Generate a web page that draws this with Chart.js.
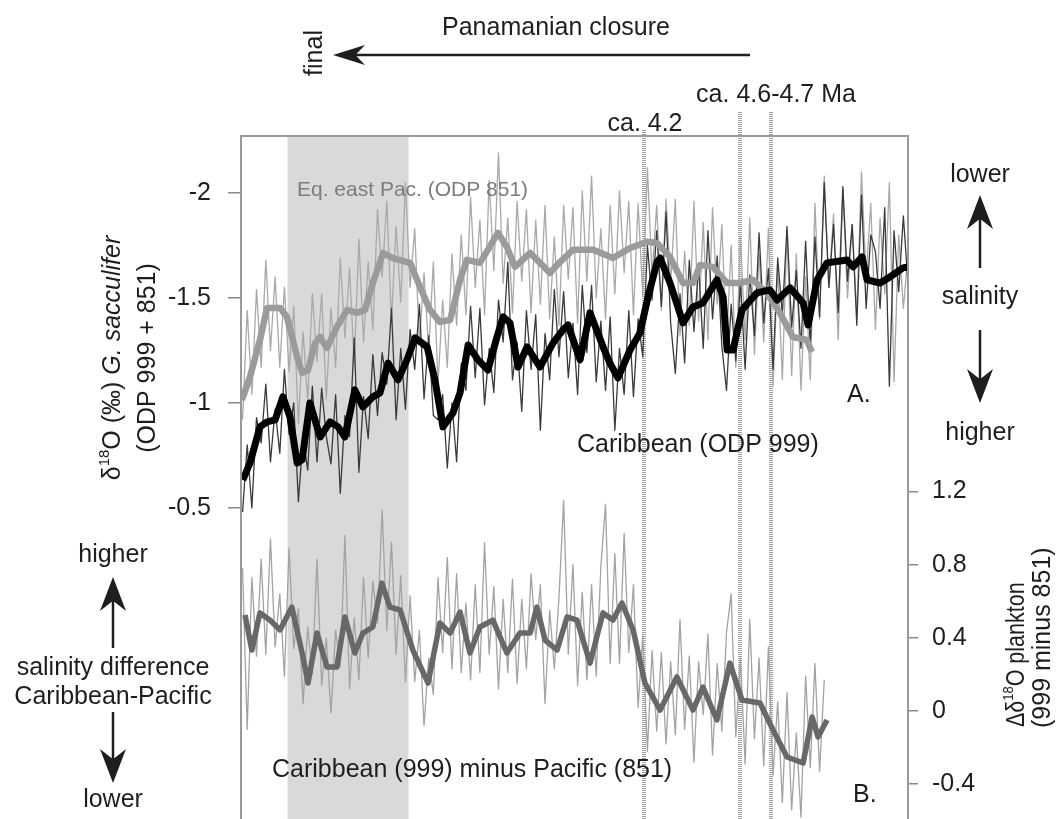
<!DOCTYPE html>
<html>
<head>
<meta charset="utf-8">
<script src="https://cdn.jsdelivr.net/npm/chart.js@4.4.1/dist/chart.umd.min.js"></script>
<style>
  html, body { margin: 0; padding: 0; background: #fff; }
  #wrap { width: 1056px; height: 819px; position: relative; }
</style>
</head>
<body>
<div id="wrap"><canvas id="c" width="1056" height="819"></canvas></div>
<script>
// ---- Smoothed records (age in Ma, δ18O in ‰) ----
const carSmoothAge = [2.996,3.019,3.051,3.074,3.100,3.125,3.148,3.171,3.187,3.212,
  3.245,3.277,3.303,3.325,3.357,3.383,3.415,3.438,3.464,3.496,
  3.525,3.551,3.590,3.615,3.641,3.673,3.696,3.722,3.754,3.786,
  3.815,3.835,3.857,3.883,3.912,3.954,3.996,4.028,4.044,4.083,
  4.115,4.157,4.179,4.205,4.244,4.276,4.302,4.331,4.341,4.373,
  4.415,4.447,4.479,4.524,4.544,4.557,4.576,4.605,4.653,4.695,
  4.718,4.760,4.802,4.818,4.847,4.879,4.943,4.963,4.992,5.008,
  5.050,5.082,5.124,5.140];
const carSmooth = [-0.633,-0.714,-0.886,-0.910,-0.919,-1.029,-0.933,-0.714,-0.729,-1.000,
  -0.838,-0.910,-0.886,-0.838,-1.062,-0.981,-1.029,-1.048,-1.190,-1.110,
  -1.205,-1.310,-1.267,-1.110,-0.886,-0.952,-1.048,-1.276,-1.205,-1.157,
  -1.314,-1.410,-1.381,-1.171,-1.267,-1.171,-1.286,-1.348,-1.371,-1.205,
  -1.429,-1.267,-1.190,-1.119,-1.252,-1.333,-1.505,-1.671,-1.690,-1.571,
  -1.381,-1.457,-1.476,-1.586,-1.505,-1.252,-1.252,-1.443,-1.524,-1.538,
  -1.490,-1.548,-1.476,-1.371,-1.586,-1.667,-1.681,-1.648,-1.695,-1.586,
  -1.571,-1.600,-1.643,-1.648];

const pacSmoothAge = [2.993,3.019,3.051,3.074,3.116,3.138,3.171,3.187,3.206,3.229,
  3.245,3.267,3.299,3.332,3.364,3.390,3.415,3.448,3.480,3.535,
  3.567,3.599,3.631,3.664,3.696,3.718,3.760,3.786,3.818,3.847,
  3.873,3.922,3.954,3.986,4.018,4.060,4.125,4.189,4.244,4.299,
  4.331,4.373,4.415,4.447,4.470,4.511,4.557,4.598,4.640,4.685,
  4.727,4.769,4.814,4.830];
const pacSmooth = [-1.014,-1.124,-1.300,-1.452,-1.452,-1.410,-1.219,-1.143,-1.157,-1.286,
  -1.314,-1.262,-1.362,-1.443,-1.429,-1.443,-1.571,-1.714,-1.690,-1.667,
  -1.552,-1.443,-1.386,-1.395,-1.586,-1.681,-1.667,-1.729,-1.810,-1.743,
  -1.648,-1.714,-1.667,-1.619,-1.671,-1.729,-1.729,-1.690,-1.738,-1.767,
  -1.762,-1.695,-1.571,-1.571,-1.657,-1.648,-1.571,-1.571,-1.586,-1.524,
  -1.429,-1.314,-1.300,-1.243];

const diffSmoothAge = [3.003,3.025,3.051,3.083,3.116,3.154,3.187,3.206,3.235,3.267,
  3.299,3.325,3.357,3.383,3.415,3.444,3.470,3.503,3.544,3.593,
  3.631,3.664,3.696,3.728,3.760,3.802,3.847,3.889,3.922,3.944,
  3.970,4.009,4.041,4.073,4.115,4.157,4.189,4.218,4.254,4.292,
  4.341,4.395,4.447,4.479,4.524,4.566,4.605,4.663,4.705,4.750,
  4.802,4.831,4.850,4.879];
const diffSmooth = [0.525,0.333,0.536,0.497,0.443,0.568,0.317,0.153,0.426,0.240,
  0.240,0.514,0.317,0.426,0.459,0.699,0.568,0.552,0.333,0.153,
  0.481,0.426,0.541,0.317,0.459,0.497,0.317,0.426,0.426,0.568,
  0.388,0.333,0.514,0.497,0.262,0.536,0.497,0.590,0.443,0.153,
  0.005,0.186,0.005,0.131,-0.049,0.262,0.060,0.044,-0.104,-0.251,
  -0.284,-0.033,-0.142,-0.049];

// ---- Raw sample series, evenly sampled from rawStart every rawStep Ma ----
const rawStart = 2.995;
const rawStep = 0.015;
const carRaw = [-0.48,-0.80,-0.50,-0.93,-0.81,-1.09,-0.72,-0.97,-0.76,-1.16,
  -0.85,-1.00,-0.53,-0.84,-0.68,-1.08,-0.72,-1.07,-0.84,-0.71,
  -1.04,-0.57,-0.94,-0.84,-1.31,-0.67,-1.03,-0.83,-1.23,-0.94,
  -1.24,-1.09,-1.45,-0.92,-1.26,-0.97,-1.35,-1.16,-1.47,-1.02,
  -1.32,-0.94,-0.92,-1.04,-0.69,-1.00,-0.72,-1.19,-1.06,-1.46,
  -1.12,-1.45,-0.99,-1.26,-1.05,-1.49,-1.29,-1.67,-1.11,-1.29,
  -0.96,-1.44,-1.16,-1.42,-0.87,-1.33,-1.11,-1.54,-1.22,-1.53,
  -1.12,-1.38,-1.04,-1.56,-1.24,-1.56,-1.10,-1.39,-1.06,-1.41,
  -0.87,-1.26,-1.04,-1.44,-1.03,-1.40,-1.22,-1.75,-1.49,-1.82,
  -1.46,-1.91,-1.38,-1.14,-1.52,-1.19,-1.68,-1.34,-1.65,-1.26,
  -1.82,-1.40,-1.70,-1.27,-1.06,-1.47,-1.20,-1.58,-1.16,-1.61,
  -1.32,-1.81,-1.38,-1.64,-1.16,-1.69,-1.42,-1.84,-1.36,-1.63,
  -1.26,-1.77,-1.27,-1.79,-1.41,-2.05,-1.55,-1.85,-1.43,-2.03,
  -1.58,-1.85,-1.37,-1.99,-1.45,-1.80,-1.72,-1.45,-1.93,-1.08,
  -1.82,-1.53,-1.89,-1.57];
const pacRaw = [-0.92,-1.44,-1.04,-1.54,-1.17,-1.68,-1.25,-1.60,-1.17,-1.55,
  -1.15,-1.46,-0.90,-1.34,-1.01,-1.52,-1.20,-1.52,-1.02,-1.45,
  -1.17,-1.69,-1.31,-1.64,-1.18,-1.78,-1.29,-1.67,-1.35,-1.92,
  -1.60,-1.96,-1.39,-1.84,-1.48,-2.05,-1.55,-1.83,-1.28,-1.62,
  -1.25,-1.67,-1.09,-1.49,-1.17,-1.71,-1.37,-1.80,-1.42,-1.98,
  -1.55,-1.87,-1.42,-2.06,-1.63,-2.19,-1.57,-1.88,-1.43,-1.96,
  -1.58,-1.92,-1.43,-1.87,-1.47,-1.94,-1.40,-1.79,-1.37,-1.94,
  -1.59,-1.93,-1.38,-2.01,-1.58,-2.08,-1.50,-1.83,-1.40,-1.94,
  -1.52,-2.01,-1.62,-1.96,-1.42,-1.95,-1.51,-2.12,-1.61,-1.94,
  -1.44,-1.97,-1.57,-1.97,-1.32,-1.72,-1.37,-1.96,-1.39,-1.86,
  -1.30,-1.93,-1.47,-1.85,-1.27,-1.75,-1.17,-1.79,-1.30,-1.88,
  -1.23,-1.71,-1.29,-1.83,-1.08,-1.65,-1.11,-1.82,-1.13,-1.71,
  -1.06,-1.60,-1.11,-1.95,-1.40,-2.08,-1.55,-1.90,-1.30,-2.02,
  -1.50,-1.85,-1.42,-2.10,-1.60,-1.95,-1.35,-1.88,-1.52,-2.05,
  -1.10,-1.80,-1.45,-1.70];
const diffRaw = [0.78,-0.10,0.73,0.30,0.83,0.31,0.94,0.35,0.64,0.19,
  0.89,0.34,0.56,0.04,0.46,0.20,0.83,0.14,0.40,-0.01,
  0.44,0.24,0.96,0.12,0.51,0.17,0.73,0.29,0.71,0.48,
  1.10,0.44,0.92,0.31,0.74,0.16,0.63,0.16,0.44,-0.08,
  0.29,0.09,0.73,0.32,0.84,0.23,0.75,0.21,0.59,0.17,
  0.69,0.21,0.92,0.31,0.68,0.12,0.61,0.21,0.72,0.15,
  0.61,0.23,0.75,0.39,0.69,0.04,0.55,0.23,0.62,1.15,
  0.31,0.80,0.14,0.65,0.17,0.69,0.19,0.79,1.13,0.26,
  0.86,0.26,0.97,0.32,0.69,0.02,0.41,-0.22,0.33,-0.11,
  0.32,-0.18,0.27,-0.13,0.50,-0.10,0.30,-0.28,0.27,-0.02,
  0.42,-0.24,0.26,-0.11,0.43,0.64,-0.14,0.29,-0.29,0.50,
  -0.15,0.29,-0.30,0.35,-0.35,0.05,-0.50,0.10,-0.54,-0.12,
  -0.58,0.19,-0.31,0.26,-0.33,0.17];

// ---- Axis ticks and event markers ----
const leftTicks = [-2, -1.5, -1, -0.5];
const rightTicks = [1.2, 0.8, 0.4, 0, -0.4];
const closureMarks = [4.29, 4.60, 4.70];       // ca. 4.2 and ca. 4.6-4.7 Ma
const shadedInterval = [3.14, 3.53];

const FONT = '"Liberation Sans", Arial, Helvetica, sans-serif';
const INK = '#1e1e1e';

const pairs = (ages, vals) => vals.map((v, i) => ({ x: ages[i], y: v }));
const rawPairs = vals => vals.map((v, i) => ({ x: +(rawStart + i * rawStep).toFixed(3), y: v }));

function line(data, axis, color, width) {
  return { data, yAxisID: axis, borderColor: color, borderWidth: width,
           pointRadius: 0, fill: false, tension: 0, borderJoinStyle: 'round' };
}

function txt(ctx, s, x, y, o = {}) {
  ctx.save();
  ctx.font = `${o.italic ? 'italic ' : ''}${o.size || 25}px ${FONT}`;
  ctx.fillStyle = o.color || INK;
  ctx.textAlign = o.align || 'center';
  ctx.textBaseline = 'middle';
  ctx.translate(x, y);
  if (o.rot) ctx.rotate(o.rot);
  ctx.fillText(s, 0, 0);
  ctx.restore();
}

function rich(ctx, parts, x, y, rot, align, squeeze = 1) {
  ctx.save();
  ctx.translate(x, y);
  ctx.rotate(rot);
  ctx.scale(squeeze, 1);
  ctx.textBaseline = 'middle';
  ctx.textAlign = 'left';
  ctx.fillStyle = INK;
  const fontOf = p => `${p.italic ? 'italic ' : ''}${p.sup ? 15 : 25}px ${FONT}`;
  let total = 0;
  const widths = parts.map(p => { ctx.font = fontOf(p); const w = ctx.measureText(p.t).width; total += w; return w; });
  let cx = align === 'start' ? 0 : -total / 2;
  parts.forEach((p, i) => { ctx.font = fontOf(p); ctx.fillText(p.t, cx, p.sup ? -8 : 0); cx += widths[i]; });
  ctx.restore();
}

function arrow(ctx, x1, y1, x2, y2, len, half) {
  const ang = Math.atan2(y2 - y1, x2 - x1);
  ctx.save();
  ctx.strokeStyle = INK;
  ctx.fillStyle = INK;
  ctx.lineWidth = 2.5;
  ctx.beginPath();
  ctx.moveTo(x1, y1);
  ctx.lineTo(x2 - Math.cos(ang) * len * 0.6, y2 - Math.sin(ang) * len * 0.6);
  ctx.stroke();
  ctx.translate(x2, y2);
  ctx.rotate(ang);
  ctx.beginPath();
  ctx.moveTo(0, 0);
  ctx.lineTo(-len, -half);
  ctx.lineTo(-len * 0.7, 0);
  ctx.lineTo(-len, half);
  ctx.closePath();
  ctx.fill();
  ctx.restore();
}

const decorations = {
  id: 'decorations',
  beforeDatasetsDraw(chart) {
    const { ctx, chartArea: a, scales: { x } } = chart;
    ctx.save();
    // shaded interval
    const s0 = x.getPixelForValue(shadedInterval[0]);
    const s1 = x.getPixelForValue(shadedInterval[1]);
    ctx.fillStyle = '#d9d9d9';
    ctx.fillRect(s0, a.top, s1 - s0, chart.height - a.top);
    // closure marker lines (hatched)
    ctx.strokeStyle = '#a0a0a0';
    ctx.lineWidth = 4;
    ctx.setLineDash([1, 1]);
    closureMarks.forEach((m, i) => {
      const px = Math.round(x.getPixelForValue(m));
      const top = i === 0 ? 130 : 112;
      ctx.beginPath();
      ctx.moveTo(px, top);
      ctx.lineTo(px, chart.height);
      ctx.stroke();
    });
    ctx.restore();
  },
  afterDatasetsDraw(chart) {
    const { ctx, chartArea: a } = chart;
    ctx.save();
    ctx.strokeStyle = '#9a9a9a';
    ctx.lineWidth = 2;
    ctx.beginPath();
    ctx.moveTo(a.left, chart.height);
    ctx.lineTo(a.left, a.top);
    ctx.lineTo(a.right, a.top);
    ctx.lineTo(a.right, chart.height);
    ctx.stroke();
    ctx.restore();
  },
  afterDraw(chart) {
    const ctx = chart.ctx;
    // heading with arrow
    txt(ctx, 'Panamanian closure', 556, 28);
    arrow(ctx, 750, 55, 333, 55, 32, 10);
    txt(ctx, 'final', 315, 53, { rot: -Math.PI / 2 });
    txt(ctx, 'ca. 4.6-4.7 Ma', 776, 95);
    txt(ctx, 'ca. 4.2', 645, 124);

    // left axis title
    rich(ctx, [{ t: 'δ' }, { t: '18', sup: true }, { t: 'O (‰) ' }, { t: 'G. sacculifer', italic: true }],
         113, 358, -Math.PI / 2, 'center');
    txt(ctx, '(ODP 999 + 851)', 148, 358, { rot: -Math.PI / 2 });

    // right axis title
    rich(ctx, [{ t: 'Δδ' }, { t: '18', sup: true }, { t: 'O plankton' }], 1017, 727, -Math.PI / 2, 'start', 0.86);
    txt(ctx, '(999 minus 851)', 1043, 728, { rot: -Math.PI / 2, align: 'left' });

    // salinity guide (upper panel)
    txt(ctx, 'lower', 980, 175);
    arrow(ctx, 980, 268, 980, 195, 34, 13);
    txt(ctx, 'salinity', 980, 297);
    arrow(ctx, 980, 330, 980, 403, 34, 13);
    txt(ctx, 'higher', 980, 433);

    // salinity difference guide (lower panel)
    txt(ctx, 'higher', 113, 555);
    arrow(ctx, 113, 648, 113, 577, 34, 13);
    txt(ctx, 'salinity difference', 113, 668);
    txt(ctx, 'Caribbean-Pacific', 113, 697);
    arrow(ctx, 113, 712, 113, 783, 34, 13);
    txt(ctx, 'lower', 113, 800);

    // in-panel labels
    txt(ctx, 'Eq. east Pac. (ODP 851)', 297, 190, { align: 'left', size: 21, color: '#7c7c7c' });
    txt(ctx, 'Caribbean (ODP 999)', 577, 445, { align: 'left' });
    txt(ctx, 'A.', 847, 395, { align: 'left' });
    txt(ctx, 'Caribbean (999) minus Pacific (851)', 272, 770, { align: 'left' });
    txt(ctx, 'B.', 853, 795, { align: 'left' });
  }
};

new Chart(document.getElementById('c'), {
  type: 'line',
  data: {
    datasets: [
      line(pairs(carSmoothAge, carSmooth), 'yA', '#000000', 7),
      line(pairs(pacSmoothAge, pacSmooth), 'yA', '#9b9b9b', 6.5),
      line(pairs(diffSmoothAge, diffSmooth), 'yB', '#686868', 5.5),
      line(rawPairs(carRaw), 'yA', '#3a3a3a', 1.3),
      line(rawPairs(pacRaw), 'yA', '#a9a9a9', 1.3),
      line(rawPairs(diffRaw), 'yB', '#a3a3a3', 1.3)
    ]
  },
  options: {
    responsive: false,
    animation: false,
    events: [],
    layout: { padding: { top: 136, left: 0, right: 0, bottom: 0 } },
    plugins: { legend: { display: false }, tooltip: { enabled: false } },
    scales: {
      x: { type: 'linear', min: 2.99, max: 5.14, display: false },
      yA: {
        type: 'linear', position: 'left', reverse: true, min: -2.271, max: 0.981,
        afterBuildTicks: s => { s.ticks = leftTicks.map(v => ({ value: v })); },
        afterFit: s => { s.width = 241; s.paddingTop = 0; s.paddingBottom = 0; },
        ticks: { callback: v => String(v), font: { family: FONT, size: 25 }, color: INK, padding: 17 },
        grid: { drawOnChartArea: false, tickLength: 13, color: '#8a8a8a', lineWidth: 1.5 },
        border: { display: false }
      },
      yB: {
        type: 'linear', position: 'right', min: -0.59, max: 3.142,
        afterBuildTicks: s => { s.ticks = rightTicks.map(v => ({ value: v })); },
        afterFit: s => { s.width = 148; s.paddingTop = 0; s.paddingBottom = 0; },
        ticks: { callback: v => String(v), font: { family: FONT, size: 25 }, color: INK, padding: 14 },
        grid: { drawOnChartArea: false, tickLength: 10, color: '#8a8a8a', lineWidth: 1.5 },
        border: { display: false }
      }
    }
  },
  plugins: [decorations]
});
</script>
</body>
</html>
